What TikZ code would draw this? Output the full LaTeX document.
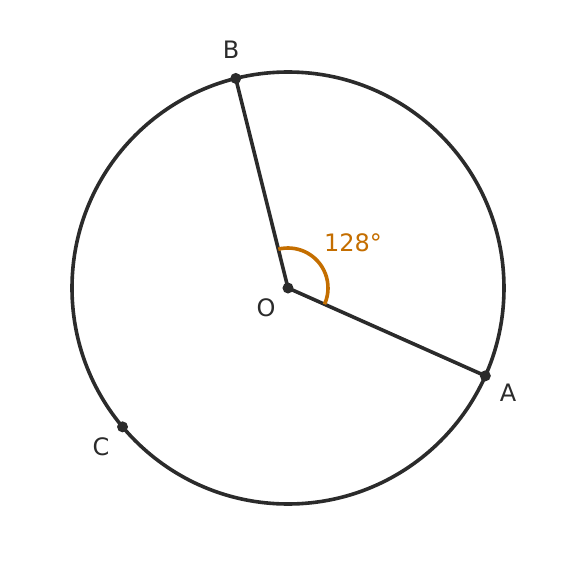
\documentclass[tikz,border=0pt]{standalone}
\usepackage{fontspec}
\setmainfont{DejaVu Sans}
\tikzset{>=latex}
\definecolor{mydark}{RGB}{43,43,43}
\definecolor{myorange}{RGB}{196,110,0}
\tikzset{
  pt/.style={circle,fill=mydark,inner sep=0pt,minimum size=11pt},
  lbl/.style={text=mydark,font=\fontsize{24}{28}\selectfont},
  seg/.style={draw=mydark,line width=3.6pt}
}

\begin{document}
\begin{tikzpicture}[x=1pt,y=1pt]
  \useasboundingbox (-288,-288) rectangle (288,288);

  \def\rad{216} %radius

  % circle
  \draw[seg] (0,0) circle (\rad);

  % points
  \node[pt] (O) at (0,0) {};
  \node[pt] (A) at (-24:\rad) {};
  \node[pt] (B) at (104:\rad) {};
  \node[pt] (C) at (220:\rad) {};

  % radii
  \draw[seg] (O.center) -- (A.center);
  \draw[seg] (O.center) -- (B.center);

  % angle
  \draw[myorange,line width=3.6pt]
    ([shift={(-24:40)}]O.center) arc[start angle=-24,end angle=104,radius=40];

  % labels
  \node[lbl] (labO) at (-22,-20) {O};
  \node[lbl] (labA) at (220,-105) {A};
  \node[lbl] (labB) at (-57,238) {B};
  \node[lbl] (labC) at (-187,-159) {C};
  \node[lbl,text=myorange] (ang) at (65,45) {128°};

\end{tikzpicture}
\end{document}
